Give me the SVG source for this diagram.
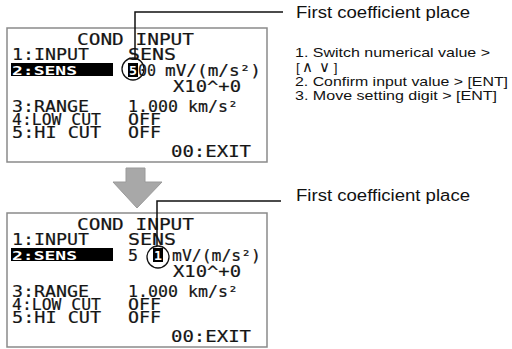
<svg xmlns="http://www.w3.org/2000/svg" width="512" height="349" viewBox="0 0 512 349">
  <style>
    .frame { fill: #ffffff; stroke: #8a8a8a; stroke-width: 1.5; }
    .lcd { font-family: "DejaVu Sans Mono", "Liberation Mono", monospace; font-size: 16px; fill: #151515; stroke: #151515; stroke-width: 0.2; }
    .inv { font-family: "DejaVu Sans Mono", "Liberation Mono", monospace; font-size: 13px; font-weight: bold; fill: #ffffff; }
    .bar { fill: #000000; }
    .lead { fill: none; stroke: #111111; stroke-width: 1.5; }
    .ring { fill: none; stroke: #111111; stroke-width: 1.3; }
    .note { font-family: "Liberation Sans", Arial, sans-serif; font-size: 16px; fill: #111111; }
    .step { font-family: "Liberation Sans", Arial, sans-serif; font-size: 13.5px; fill: #111111; }
    .sym { font-family: "DejaVu Sans", sans-serif; font-size: 15px; font-weight: 200; }
  </style>

  <rect width="512" height="349" fill="#ffffff"/>

  <!-- Upper screen: cursor on first digit -->
  <g id="screen-before">
    <rect class="frame" x="7" y="28" width="260" height="134"/>
    <text class="lcd" x="77" y="45" textLength="117" lengthAdjust="spacingAndGlyphs">COND INPUT</text>
    <text class="lcd" x="12" y="60" textLength="77" lengthAdjust="spacingAndGlyphs">1:INPUT</text>
    <text class="lcd" x="128" y="60" textLength="48" lengthAdjust="spacingAndGlyphs">SENS</text>
    <rect class="bar" x="11" y="63" width="102" height="13"/>
    <text class="inv" x="12" y="75" textLength="65" lengthAdjust="spacingAndGlyphs">2:SENS</text>
    <rect class="bar" x="128" y="63" width="10" height="14"/>
    <text class="inv" x="129" y="75" textLength="8" lengthAdjust="spacingAndGlyphs">5</text>
    <text class="lcd" x="138" y="76" textLength="18" lengthAdjust="spacingAndGlyphs">00</text>
    <text class="lcd" x="165" y="76" textLength="96" lengthAdjust="spacingAndGlyphs">mV/(m/s²)</text>
    <text class="lcd" x="173" y="92" textLength="68" lengthAdjust="spacingAndGlyphs">X10^+0</text>
    <text class="lcd" x="12" y="112" textLength="77" lengthAdjust="spacingAndGlyphs">3:RANGE</text>
    <text class="lcd" x="128" y="112" textLength="110" lengthAdjust="spacingAndGlyphs">1.000 km/s²</text>
    <text class="lcd" x="12" y="125" textLength="89" lengthAdjust="spacingAndGlyphs">4:LOW CUT</text>
    <text class="lcd" x="128" y="125" textLength="33" lengthAdjust="spacingAndGlyphs">OFF</text>
    <text class="lcd" x="12" y="138" textLength="89" lengthAdjust="spacingAndGlyphs">5:HI  CUT</text>
    <text class="lcd" x="128" y="138" textLength="33" lengthAdjust="spacingAndGlyphs">OFF</text>
    <text class="lcd" x="171" y="157" textLength="80" lengthAdjust="spacingAndGlyphs">00:EXIT</text>
  </g>

  <!-- Transition arrow -->
  <g id="step-arrow">
    <polygon points="126,168 145,168 145,182 162,182 137,208 113,182 126,182" fill="#a8a8a8" stroke="#9a9a9a" stroke-width="1"/>
  </g>

  <!-- Lower screen: first digit changed to 1 -->
  <g id="screen-after">
    <rect class="frame" x="7" y="213" width="260" height="134"/>
    <text class="lcd" x="77" y="230" textLength="117" lengthAdjust="spacingAndGlyphs">COND INPUT</text>
    <text class="lcd" x="12" y="245" textLength="77" lengthAdjust="spacingAndGlyphs">1:INPUT</text>
    <text class="lcd" x="128" y="245" textLength="48" lengthAdjust="spacingAndGlyphs">SENS</text>
    <rect class="bar" x="11" y="248" width="102" height="13"/>
    <text class="inv" x="12" y="260" textLength="65" lengthAdjust="spacingAndGlyphs">2:SENS</text>
    <text class="lcd" x="128" y="261" textLength="10" lengthAdjust="spacingAndGlyphs">5</text>
    <rect class="bar" x="153" y="248" width="10" height="14"/>
    <text class="inv" x="154" y="260" textLength="8" lengthAdjust="spacingAndGlyphs">1</text>
    <text class="lcd" x="172" y="261" textLength="89" lengthAdjust="spacingAndGlyphs">mV/(m/s²)</text>
    <text class="lcd" x="173" y="277" textLength="68" lengthAdjust="spacingAndGlyphs">X10^+0</text>
    <text class="lcd" x="12" y="297" textLength="77" lengthAdjust="spacingAndGlyphs">3:RANGE</text>
    <text class="lcd" x="128" y="297" textLength="110" lengthAdjust="spacingAndGlyphs">1.000 km/s²</text>
    <text class="lcd" x="12" y="310" textLength="89" lengthAdjust="spacingAndGlyphs">4:LOW CUT</text>
    <text class="lcd" x="128" y="310" textLength="33" lengthAdjust="spacingAndGlyphs">OFF</text>
    <text class="lcd" x="12" y="323" textLength="89" lengthAdjust="spacingAndGlyphs">5:HI  CUT</text>
    <text class="lcd" x="128" y="323" textLength="33" lengthAdjust="spacingAndGlyphs">OFF</text>
    <text class="lcd" x="171" y="342" textLength="80" lengthAdjust="spacingAndGlyphs">00:EXIT</text>
  </g>

  <!-- Callout texts -->
  <g id="label-top">
    <text class="note" x="296" y="18" textLength="174" lengthAdjust="spacingAndGlyphs">First coefficient place</text>
  </g>
  <g id="steps">
    <text class="step" x="295" y="57" textLength="195" lengthAdjust="spacingAndGlyphs">1. Switch numerical value &gt;</text>
    <text class="step" x="296" y="72">[<tspan class="sym" dx="2">∧</tspan><tspan class="sym" dx="6">∨</tspan><tspan dx="4">]</tspan></text>
    <text class="step" x="295" y="86" textLength="213" lengthAdjust="spacingAndGlyphs">2. Confirm input value &gt; [ENT]</text>
    <text class="step" x="295" y="100" textLength="202" lengthAdjust="spacingAndGlyphs">3. Move setting digit &gt; [ENT]</text>
  </g>
  <g id="label-bottom">
    <text class="note" x="296" y="201" textLength="174" lengthAdjust="spacingAndGlyphs">First coefficient place</text>
  </g>

  <!-- Leader lines and marking circles -->
  <g id="connectors">
    <polyline class="lead" points="135,58 135,12 283,12"/>
    <circle class="ring" cx="133" cy="69" r="11"/>
    <polyline class="lead" points="157,246 157,201 281,201"/>
    <circle class="ring" cx="158" cy="257" r="11"/>
  </g>
</svg>
